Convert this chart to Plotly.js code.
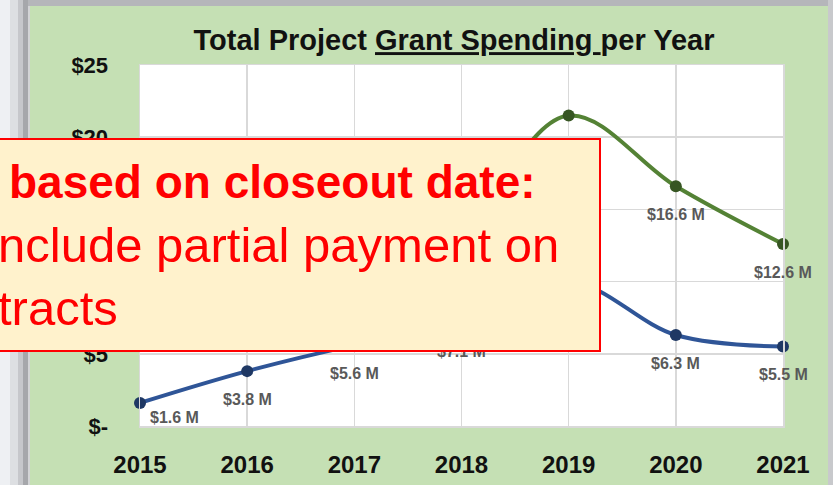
<!DOCTYPE html>
<html><head><meta charset="utf-8">
<script src="https://cdn.plot.ly/plotly-3.0.1.min.js"></script>
<style>html,body{margin:0;padding:0;background:#fff;overflow:hidden}#chart{width:833px;height:485px}</style>
</head><body><div id="chart"></div>
<script>
// ---- data ----
const years = [2015, 2016, 2017, 2018, 2019, 2020, 2021];
const closeoutSpending = [1.6, 3.8, 5.6, 7.1, 10.0, 6.3, 5.5];     // blue series ($M)
const totalSpending = [8.2, 10.0, 12.0, 14.2, 21.5, 16.6, 12.6];   // green series ($M)
const yTickVals = [0, 5, 10, 15, 20, 25];
const yTickText = ['$-', '$5', '$10', '$15', '$20', '$25'];
const titleText = 'Total Project <u>Grant Spending </u>per Year';
const noteLines = ['based on closeout date:', 'nclude partial payment on', 'tracts'];
// labels that the note box leaves (at least partly) visible
const blueLabelShown = [true, true, true, true, false, true, true];
const greenLabelShown = [false, false, false, false, false, true, true];

// ---- geometry helpers (pixel -> paper) ----
const L = 140, R = 50, T = 65, B = 59, W = 833, H = 485;
const pw = W - L - R, ph = H - T - B;
const px = x => (x - L) / pw;
const py = y => (H - B - y) / ph;

const fmt = v => '$' + v.toFixed(1) + ' M';

const traces = [
  {x: years, y: totalSpending, type: 'scatter', mode: 'lines+markers', cliponaxis: false,
   line: {color: '#548235', width: 4, shape: 'spline', smoothing: 1},
   marker: {color: '#375623', size: 12}},
  {x: years, y: closeoutSpending, type: 'scatter', mode: 'lines+markers', cliponaxis: false,
   line: {color: '#2F5597', width: 4, shape: 'spline', smoothing: 1},
   marker: {color: '#1F3864', size: 12}}
];

const labelFont = {family: 'Liberation Sans, Arial, sans-serif', size: 16, color: '#595959', weight: 'bold'};
const annotations = [];
[[totalSpending, greenLabelShown], [closeoutSpending, blueLabelShown]].forEach(([series, shown]) => {
  series.forEach((v, i) => {
    if (!shown[i]) return;
    const first = i === 0;
    annotations.push({x: years[i], y: v, xref: 'x', yref: 'y', text: fmt(v), showarrow: false,
      font: labelFont, xshift: first ? 34 : 0, yshift: first ? -15 : -28});
  });
});

// overlay note box
annotations.push({xref: 'paper', yref: 'paper', x: px(601), y: py(138), xanchor: 'right', yanchor: 'top',
  text: ' ', showarrow: false, width: 620, height: 210, bgcolor: '#FFF2CC',
  bordercolor: '#FF0000', borderwidth: 2, borderpad: 0});
const noteSpecs = [
  {x: 8, y: 182, size: 46, weight: 'bold'},
  {x: -3, y: 245, size: 49, weight: 'normal'},
  {x: -3, y: 308, size: 49, weight: 'normal'}
];
noteLines.forEach((t, i) => {
  const s = noteSpecs[i];
  annotations.push({xref: 'paper', yref: 'paper', x: px(s.x), y: py(s.y), xanchor: 'left', yanchor: 'middle',
    text: t, showarrow: false, borderpad: 0,
    font: {family: 'Liberation Sans, Arial, sans-serif', size: s.size, color: '#FF0000', weight: s.weight}});
});

// frame shading
const shapes = [];
const strips = [[0, 10, '#EEF0F3'], [10, 18, '#DDDFE2'], [18, 23, '#C6C7CB'], [23, 28, '#A6A7AB'], [28, 30, '#D3D4D6']];
strips.forEach(s => shapes.push({type: 'rect', xref: 'paper', yref: 'paper', layer: 'below',
  x0: px(s[0]), x1: px(s[1]), y0: py(H + 5), y1: py(-5), fillcolor: s[2], line: {width: 0}}));
shapes.push({type: 'rect', xref: 'paper', yref: 'paper', layer: 'below',
  x0: px(28), x1: px(W + 5), y0: py(6), y1: py(-5), fillcolor: '#B5B6BA', line: {width: 0}});
shapes.push({type: 'rect', xref: 'paper', yref: 'paper', layer: 'below',
  x0: px(828), x1: px(W + 5), y0: py(H + 5), y1: py(-5), fillcolor: '#C8C9CC', line: {width: 0}});

const layout = {
  width: W, height: H,
  margin: {l: L, r: R, t: T, b: B, pad: 0},
  paper_bgcolor: '#C5E0B4', plot_bgcolor: '#FFFFFF',
  showlegend: false,
  font: {family: 'Liberation Sans, Arial, sans-serif', color: '#000'},
  title: {text: titleText, xref: 'paper', x: px(454), xanchor: 'center', yref: 'container', y: 1 - 40 / H, yanchor: 'middle',
    font: {family: 'Liberation Sans, Arial, sans-serif', size: 29, color: '#111', weight: 'bold'}},
  xaxis: {range: [2015, 2021], tickvals: years, ticktext: years.map(String), showgrid: true, gridcolor: '#D9D9D9', gridwidth: 1.5,
    zeroline: false, showline: true, linecolor: '#D9D9D9', linewidth: 1.5, mirror: true, ticks: '',
    tickfont: {size: 24, color: '#111', weight: 'bold'}, ticklabelstandoff: 17, fixedrange: true},
  yaxis: {range: [0, 25], tickvals: yTickVals, ticktext: yTickText, showgrid: true, gridcolor: '#D9D9D9', gridwidth: 1.5,
    zeroline: false, showline: true, linecolor: '#D9D9D9', linewidth: 1.5, mirror: true, ticks: '',
    tickfont: {size: 22, color: '#111', weight: 'bold'}, ticklabelstandoff: 26, fixedrange: true},
  annotations: annotations,
  shapes: shapes
};

Plotly.newPlot('chart', traces, layout, {displayModeBar: false, staticPlot: true});
</script>
</body></html>
